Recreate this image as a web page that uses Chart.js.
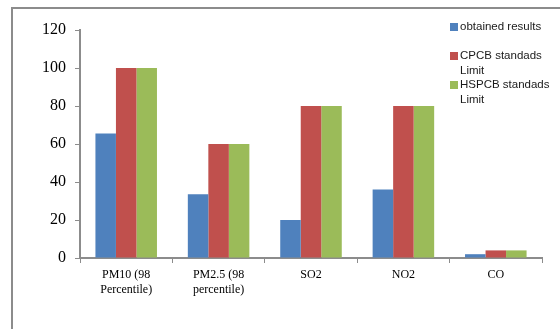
<!DOCTYPE html>
<html>
<head>
<meta charset="utf-8">
<script src="https://cdn.jsdelivr.net/npm/chart.js@4/dist/chart.umd.min.js"></script>
<style>
  html, body { margin: 0; padding: 0; background: #fff; }
  #wrap { width: 560px; height: 329px; position: relative; }
</style>
</head>
<body>
<div id="wrap"><canvas id="c" width="560" height="329"></canvas></div>
<script>
// Pollutant categories (multi-line labels)
const categories = [
  ["PM10 (98", "Percentile)"],
  ["PM2.5 (98", "percentile)"],
  "SO2",
  "NO2",
  "CO"
];
const seriesNames = ["obtained results", "CPCB standads Limit", "HSPCB standads Limit"];
const obtained = [65.5, 33.5, 20, 36, 2];
const cpcbLimit = [100, 60, 80, 80, 4];
const hspcbLimit = [100, 60, 80, 80, 4];
const yTicks = [0, 20, 40, 60, 80, 100, 120];

const colors = ["#4F81BD", "#C0504D", "#9BBB59"];

// Frame lines along the top and left edge of the chart box
const framePlugin = {
  id: 'frame',
  beforeDraw(chart) {
    const ctx = chart.ctx;
    ctx.save();
    ctx.strokeStyle = '#8c8c8c';
    ctx.lineWidth = 2;
    ctx.beginPath();
    ctx.moveTo(12, 329);
    ctx.lineTo(12, 8);
    ctx.lineTo(560, 8);
    ctx.stroke();
    ctx.restore();
  }
};

// Legend at the top right, labels wrapped to a fixed width
const sideLegend = {
  id: 'sideLegend',
  afterDraw(chart) {
    const ctx = chart.ctx;
    ctx.save();
    ctx.font = '11.5px "Liberation Sans", Arial, sans-serif';
    ctx.textBaseline = 'middle';
    ctx.fillStyle = '#000';
    const x0 = 450, textX = 460, maxW = 96, lineH = 15, rowH = 29;
    chart.data.datasets.forEach((ds, i) => {
      const y = 27 + i * rowH;
      ctx.fillStyle = ds.backgroundColor;
      ctx.fillRect(x0, y - 4, 8, 8);
      ctx.fillStyle = '#1a1a1a';
      const words = ds.label.split(' ');
      const lines = [];
      let cur = '';
      words.forEach(w => {
        const t = cur ? cur + ' ' + w : w;
        if (ctx.measureText(t).width > maxW && cur) { lines.push(cur); cur = w; }
        else cur = t;
      });
      if (cur) lines.push(cur);
      lines.forEach((ln, k) => ctx.fillText(ln, textX, y + k * lineH));
    });
    ctx.restore();
  }
};

new Chart(document.getElementById('c'), {
  type: 'bar',
  data: {
    labels: categories,
    datasets: [
      { label: seriesNames[0], data: obtained, backgroundColor: colors[0] },
      { label: seriesNames[1], data: cpcbLimit, backgroundColor: colors[1] },
      { label: seriesNames[2], data: hspcbLimit, backgroundColor: colors[2] }
    ]
  },
  options: {
    responsive: false,
    animation: false,
    layout: { padding: { left: 14, top: 30, right: 18, bottom: 0 } },
    plugins: {
      legend: { display: false },
      tooltip: { enabled: false }
    },
    datasets: {
      bar: { categoryPercentage: 0.666, barPercentage: 1.0, borderWidth: 0 }
    },
    scales: {
      x: {
        grid: {
          display: true, drawOnChartArea: false, drawTicks: true,
          tickLength: 5, color: '#8c8c8c', tickColor: '#8c8c8c', offset: true
        },
        border: { display: true, color: '#8c8c8c', width: 2 },
        ticks: {
          color: '#000', padding: 5, maxRotation: 0, autoSkip: false,
          font: { family: '"Liberation Serif", "Times New Roman", serif', size: 12, lineHeight: 1.2 }
        },
        afterFit(scale) { scale.height = 329 - 258; }
      },
      y: {
        min: 0, max: 120,
        afterBuildTicks(scale) { scale.ticks = yTicks.map(v => ({ value: v })); },
        grid: {
          display: true, drawOnChartArea: false, drawTicks: true,
          tickLength: 5, color: '#8c8c8c', tickColor: '#8c8c8c'
        },
        border: { display: true, color: '#8c8c8c', width: 2 },
        ticks: {
          color: '#000', padding: 9,
          font: { family: '"Liberation Serif", "Times New Roman", serif', size: 16 }
        },
        afterFit(scale) { scale.width = 80 - 14; }
      }
    }
  },
  plugins: [framePlugin, sideLegend]
});
</script>
</body>
</html>
